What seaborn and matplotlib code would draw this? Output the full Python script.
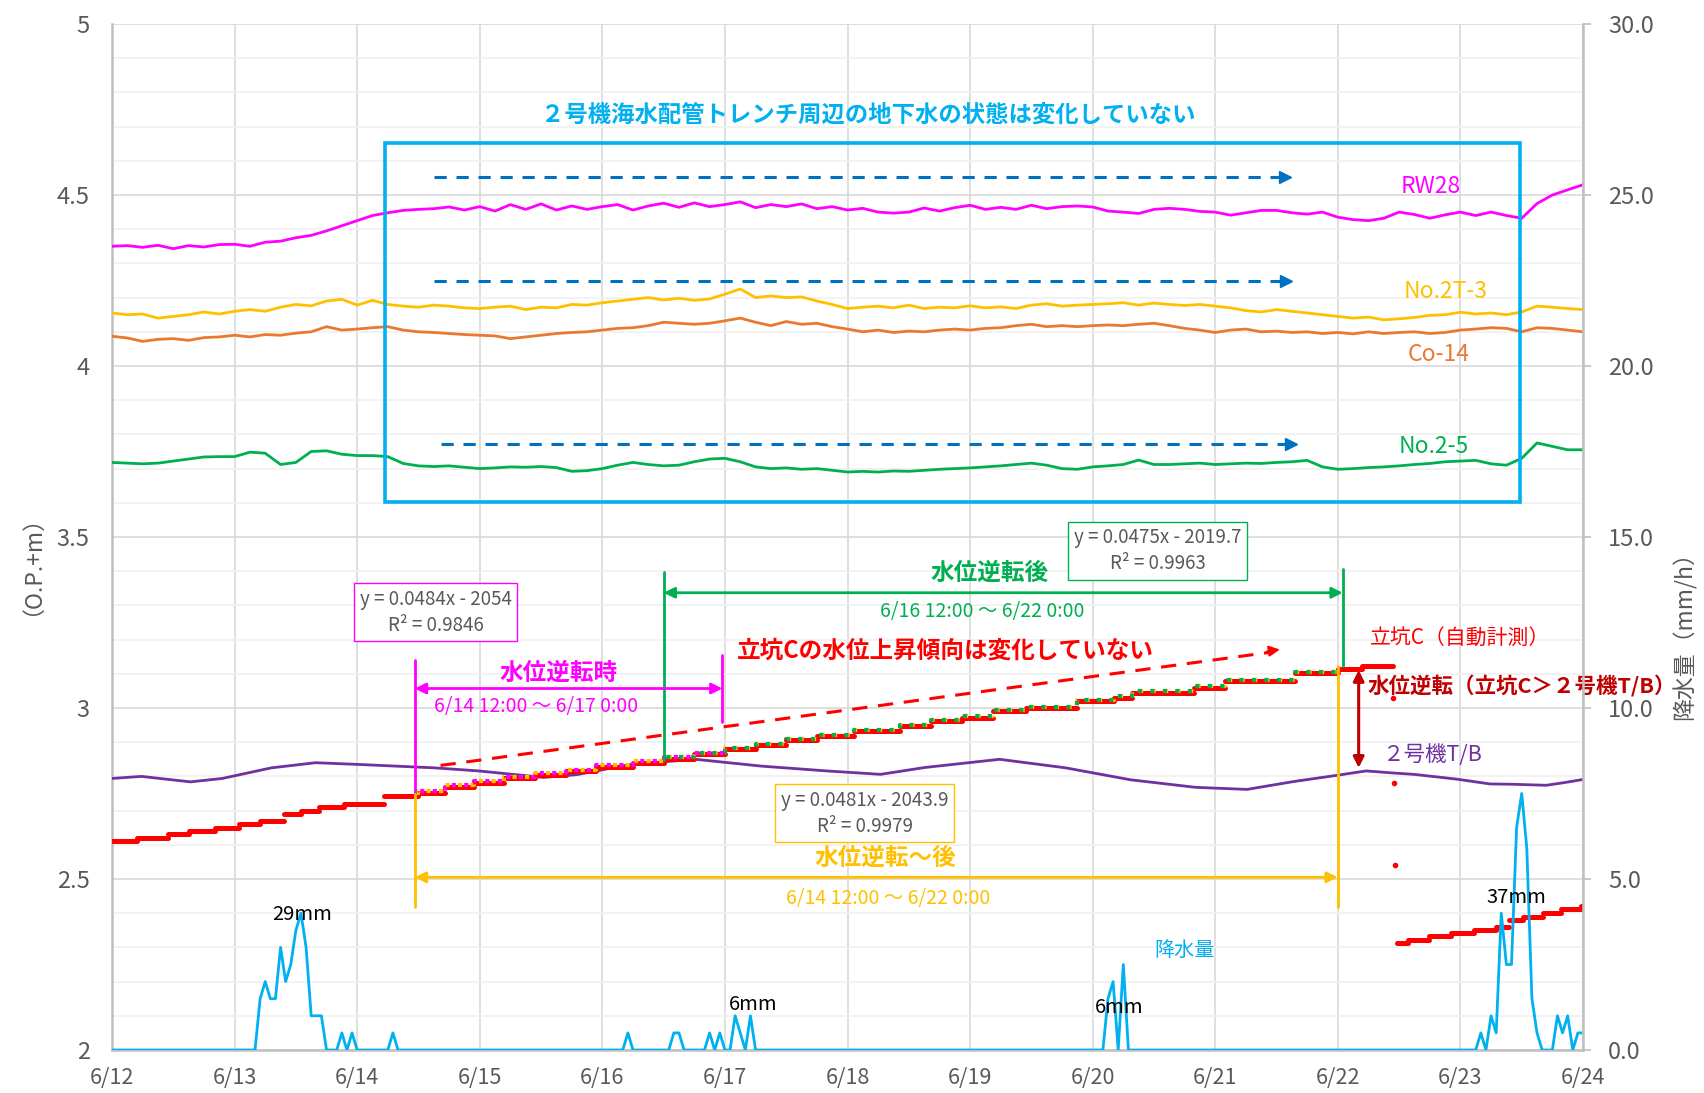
import numpy as np
import pandas as pd
import matplotlib
matplotlib.use("Agg")
import matplotlib.pyplot as plt
from matplotlib.patches import Rectangle
import seaborn as sns

# ---------------------------------------------------------------- data
date_labels = ["6/12", "6/13", "6/14", "6/15", "6/16", "6/17", "6/18",
               "6/19", "6/20", "6/21", "6/22", "6/23", "6/24"]

# 3-hourly groundwater levels (O.P.+m), hours from 6/12 0:00
well_hours = np.arange(0, 289, 3)

rw28 = [4.350, 4.352, 4.347, 4.353, 4.343, 4.352, 4.348, 4.355,
        4.356, 4.350, 4.362, 4.365, 4.375, 4.382, 4.395, 4.410,
        4.425, 4.440, 4.448, 4.455, 4.458, 4.460, 4.465, 4.456,
        4.466, 4.453, 4.472, 4.458, 4.474, 4.456, 4.468, 4.458,
        4.466, 4.472, 4.456, 4.468, 4.476, 4.464, 4.477, 4.466,
        4.472, 4.480, 4.463, 4.472, 4.466, 4.474, 4.460, 4.466,
        4.456, 4.461, 4.450, 4.447, 4.450, 4.462, 4.453, 4.463,
        4.470, 4.458, 4.464, 4.458, 4.470, 4.460, 4.466, 4.468,
        4.465, 4.453, 4.450, 4.446, 4.458, 4.461, 4.458, 4.452,
        4.450, 4.441, 4.448, 4.455, 4.455, 4.448, 4.444, 4.450,
        4.435, 4.428, 4.425, 4.432, 4.450, 4.443, 4.432, 4.442,
        4.450, 4.440, 4.450, 4.440, 4.432, 4.475, 4.500, 4.515,
        4.530]

no2t3 = [4.155, 4.150, 4.152, 4.140, 4.145, 4.150, 4.158, 4.152,
         4.160, 4.165, 4.160, 4.172, 4.180, 4.176, 4.190, 4.195,
         4.178, 4.192, 4.180, 4.175, 4.172, 4.178, 4.175, 4.170,
         4.168, 4.172, 4.175, 4.165, 4.172, 4.170, 4.180, 4.178,
         4.185, 4.190, 4.195, 4.200, 4.193, 4.198, 4.192, 4.196,
         4.210, 4.225, 4.200, 4.205, 4.200, 4.202, 4.190, 4.180,
         4.168, 4.172, 4.175, 4.170, 4.178, 4.168, 4.172, 4.170,
         4.176, 4.170, 4.173, 4.168, 4.178, 4.182, 4.175, 4.178,
         4.180, 4.182, 4.185, 4.178, 4.184, 4.180, 4.177, 4.180,
         4.175, 4.170, 4.162, 4.158, 4.165, 4.160, 4.155, 4.150,
         4.145, 4.140, 4.143, 4.135, 4.138, 4.142, 4.148, 4.150,
         4.157, 4.152, 4.155, 4.150, 4.158, 4.175, 4.172, 4.168,
         4.165]

co14 = [4.087, 4.082, 4.072, 4.078, 4.080, 4.075, 4.083, 4.085,
        4.090, 4.085, 4.092, 4.090, 4.096, 4.100, 4.115, 4.105,
        4.108, 4.112, 4.115, 4.105, 4.100, 4.098, 4.095, 4.092,
        4.090, 4.088, 4.080, 4.085, 4.090, 4.095, 4.098, 4.100,
        4.105, 4.110, 4.112, 4.118, 4.128, 4.125, 4.122, 4.125,
        4.132, 4.140, 4.128, 4.118, 4.130, 4.122, 4.125, 4.115,
        4.108, 4.100, 4.105, 4.098, 4.102, 4.100, 4.105, 4.108,
        4.105, 4.110, 4.112, 4.118, 4.122, 4.115, 4.118, 4.115,
        4.118, 4.120, 4.118, 4.122, 4.125, 4.118, 4.110, 4.105,
        4.098, 4.105, 4.108, 4.100, 4.102, 4.098, 4.100, 4.095,
        4.098, 4.094, 4.100, 4.095, 4.098, 4.100, 4.095, 4.098,
        4.105, 4.108, 4.112, 4.110, 4.100, 4.112, 4.110, 4.105,
        4.100]

no25 = [3.718, 3.716, 3.714, 3.716, 3.722, 3.728, 3.734, 3.735,
        3.735, 3.748, 3.745, 3.712, 3.718, 3.750, 3.752, 3.742,
        3.738, 3.738, 3.735, 3.715, 3.708, 3.706, 3.708, 3.704,
        3.700, 3.702, 3.705, 3.704, 3.706, 3.703, 3.692, 3.694,
        3.700, 3.710, 3.718, 3.712, 3.708, 3.710, 3.720, 3.728,
        3.730, 3.720, 3.705, 3.700, 3.702, 3.698, 3.700, 3.695,
        3.690, 3.692, 3.690, 3.693, 3.692, 3.695, 3.698, 3.700,
        3.702, 3.705, 3.708, 3.712, 3.716, 3.710, 3.700, 3.698,
        3.705, 3.708, 3.712, 3.725, 3.712, 3.712, 3.714, 3.716,
        3.712, 3.714, 3.716, 3.715, 3.718, 3.720, 3.724, 3.705,
        3.698, 3.700, 3.703, 3.705, 3.708, 3.712, 3.715, 3.720,
        3.722, 3.724, 3.714, 3.710, 3.730, 3.775, 3.765, 3.755,
        3.755]

# Unit 2 turbine building water level (days from 6/12 0:00)
tb_day = [0.00, 0.24, 0.64, 0.90, 1.30, 1.66, 2.01, 2.63, 2.99, 3.52,
          3.79, 4.23, 4.76, 5.30, 5.83, 6.27, 6.63, 7.24, 7.78, 8.31,
          8.84, 9.26, 9.64, 9.99, 10.23, 10.45, 10.62, 10.97, 11.24,
          11.43, 11.70, 11.85, 12.00]
tb_level = [2.794, 2.800, 2.784, 2.794, 2.825, 2.840, 2.835, 2.825, 2.816,
            2.797, 2.805, 2.835, 2.850, 2.830, 2.816, 2.806, 2.826, 2.850,
            2.825, 2.790, 2.768, 2.762, 2.785, 2.803, 2.816, 2.810, 2.806,
            2.792, 2.778, 2.777, 2.774, 2.782, 2.791]

# Shaft C (automatic gauge): stepwise readings, start/end day and level
shaft_start = [0.00, 0.20, 0.46, 0.63, 0.84, 1.04, 1.21, 1.40, 1.54, 1.69,
               1.89, 2.22, 2.50, 2.72, 2.95, 3.20, 3.45, 3.70, 3.95, 4.25,
               4.50, 4.75, 5.00, 5.25, 5.50, 5.75, 6.05, 6.43, 6.68, 6.93,
               7.19, 7.46, 7.87, 8.17, 8.32, 8.83, 9.08, 9.65, 10.00, 10.20,
               10.48, 10.57, 10.74, 10.92, 11.11, 11.29, 11.40, 11.51,
               11.67, 11.82, 11.98]
shaft_end = [0.20, 0.46, 0.63, 0.84, 1.04, 1.21, 1.40, 1.54, 1.69, 1.89,
             2.22, 2.50, 2.72, 2.95, 3.20, 3.45, 3.70, 3.95, 4.25, 4.50,
             4.75, 5.00, 5.25, 5.50, 5.75, 6.05, 6.43, 6.68, 6.93, 7.19,
             7.46, 7.87, 8.17, 8.32, 8.83, 9.08, 9.65, 10.00, 10.20, 10.45,
             10.57, 10.74, 10.92, 11.11, 11.29, 11.40, 11.51, 11.67,
             11.82, 11.98, 12.00]
shaft_level = [2.611, 2.621, 2.631, 2.640, 2.650, 2.660, 2.670, 2.690, 2.700,
               2.710, 2.720, 2.742, 2.752, 2.770, 2.782, 2.795, 2.805, 2.815,
               2.828, 2.840, 2.852, 2.865, 2.880, 2.892, 2.905, 2.918, 2.932,
               2.947, 2.962, 2.972, 2.991, 3.000, 3.020, 3.030, 3.045, 3.059,
               3.079, 3.101, 3.115, 3.122, 2.312, 2.321, 2.332, 2.342, 2.351,
               2.361, 2.380, 2.390, 2.400, 2.411, 2.421]
shaft_spike_day = [10.45, 10.46, 10.47]
shaft_spike_level = [3.030, 2.782, 2.540]

# Hourly rainfall (mm/h): hours with rain, hours from 6/12 0:00
rain_hour = [29, 30, 31, 32, 33, 34, 35, 36, 37, 38, 39, 40, 41, 45, 47, 55,
             101, 110, 111, 117, 119, 122, 123, 125,
             195, 196, 198,
             268, 270, 271, 272, 273, 274, 275, 276, 277, 278, 279,
             283, 284, 285, 287, 288]
rain_mm = [1.5, 2.0, 1.5, 1.5, 3.0, 2.0, 2.5, 3.5, 4.0, 3.0, 1.0, 1.0, 1.0, 0.5, 0.5, 0.5,
           0.5, 0.5, 0.5, 0.5, 0.5, 1.0, 0.5, 1.0,
           1.5, 2.0, 2.5,
           0.5, 1.0, 0.5, 4.0, 2.5, 2.5, 6.5, 7.5, 5.9, 1.5, 0.5,
           1.0, 0.5, 1.0, 0.5, 0.5]

# ---------------------------------------------------------------- style
sns.set_theme(style="white")
plt.rcParams['font.family'] = ['Noto Sans CJK JP', 'DejaVu Sans']

GRAY_TXT = "#595959"
C_RW = "#FF00FF"
C_2T3 = "#FFC000"
C_CO = "#E8792F"
C_25 = "#00B050"
C_TB = "#7030A0"
C_RAIN = "#00B0F0"
C_RED = "#FF0000"
C_DRED = "#C00000"
C_BLUE = "#0070C0"

fig = plt.figure(figsize=(17.04, 10.93), dpi=100)
ax = fig.add_axes([112 / 1704, 1 - 1050 / 1093, (1583 - 112) / 1704, (1050 - 24) / 1093])

# ---------------------------------------------------------------- wells
well_day = well_hours / 24.0
wells = pd.concat([
    pd.DataFrame({"day": well_day, "level": rw28, "well": "RW28"}),
    pd.DataFrame({"day": well_day, "level": no2t3, "well": "No.2T-3"}),
    pd.DataFrame({"day": well_day, "level": co14, "well": "Co-14"}),
    pd.DataFrame({"day": well_day, "level": no25, "well": "No.2-5"}),
    pd.DataFrame({"day": tb_day, "level": tb_level, "well": "T/B"}),
])
sns.lineplot(data=wells, x="day", y="level", hue="well", estimator=None,
             palette={"RW28": C_RW, "No.2T-3": C_2T3, "Co-14": C_CO,
                      "No.2-5": C_25, "T/B": C_TB},
             linewidth=2.0, legend=False, ax=ax, zorder=3)

# ---------------------------------------------------------------- shaft C
steps = pd.DataFrame({
    "day": np.ravel(np.column_stack([shaft_start, shaft_end])),
    "level": np.repeat(shaft_level, 2),
    "seg": np.repeat(np.arange(len(shaft_level)), 2),
})
sns.lineplot(data=steps, x="day", y="level", units="seg", estimator=None,
             color=C_RED, linewidth=3.6, legend=False, ax=ax, zorder=4)
ax.scatter(shaft_spike_day, shaft_spike_level, s=9, color=C_RED, zorder=4)

# fit-period series overlaid as dotted lines
def period(d0, d1):
    s = steps[(steps["day"] >= d0) & (steps["day"] <= d1)]
    return s["day"].to_numpy(), s["level"].to_numpy()

xx, yy = period(2.5, 10.0)
ax.plot(xx, yy + 0.004, color=C_2T3, lw=3.0, ls=(0, (1, 2)), zorder=5)
xx, yy = period(4.5, 10.0)
ax.plot(xx, yy + 0.004, color=C_25, lw=3.0, ls=(1.5, (1, 2)), zorder=5)
xx, yy = period(2.5, 5.0)
ax.plot(xx, yy + 0.004, color=C_RW, lw=3.0, ls=(1.5, (1, 2)), zorder=5)

# ---------------------------------------------------------------- rainfall
rain_series = np.zeros(289)
rain_series[np.array(rain_hour)] = rain_mm
rain = pd.DataFrame({"day": np.arange(289) / 24.0, "mm": rain_series})
ax2 = ax.twinx()
sns.lineplot(data=rain, x="day", y="mm", color=C_RAIN, linewidth=2.0,
             estimator=None, legend=False, ax=ax2)

# ---------------------------------------------------------------- axes
ax.set_xlim(0, 12)
ax.set_ylim(2, 5)
ax2.set_ylim(0, 30)
ax.set_xticks(np.arange(13))
ax.set_xticklabels(date_labels)
ax.set_yticks([2, 2.5, 3, 3.5, 4, 4.5, 5])
ax.set_yticklabels(["2", "2.5", "3", "3.5", "4", "4.5", "5"])
ax.set_yticks(np.arange(2, 5.001, 0.1), minor=True)
ax2.set_yticks(np.arange(0, 30.1, 5))
ax2.set_yticklabels([f"{v:.1f}" for v in np.arange(0, 30.1, 5)])
ax.set_xlabel("")
ax.set_ylabel("")
ax2.set_xlabel("")
ax2.set_ylabel("")

ax.yaxis.grid(True, which="minor", color="#F0F0F0", lw=1.2, zorder=0)
ax.yaxis.grid(True, which="major", color="#D9D9D9", lw=1.2, zorder=0)
ax.xaxis.grid(True, which="major", color="#D9D9D9", lw=1.2, zorder=0)
ax.set_axisbelow(True)

ax.tick_params(axis="y", which="both", length=0, pad=16, labelsize=17, labelcolor=GRAY_TXT)
ax.tick_params(axis="x", length=0, pad=12, labelsize=15.5, labelcolor=GRAY_TXT)
ax2.tick_params(axis="y", length=6, width=1.2, color="#BFBFBF", pad=12,
                labelsize=17, labelcolor=GRAY_TXT)

for sp in ["top"]:
    ax.spines[sp].set_visible(False)
    ax2.spines[sp].set_visible(False)
ax.spines["right"].set_visible(False)
ax2.spines["left"].set_visible(False)
ax2.spines["bottom"].set_visible(False)
for sp in [ax.spines["left"], ax.spines["bottom"], ax2.spines["right"]]:
    sp.set_color("#BFBFBF")
    sp.set_linewidth(1.8)

fig.text(0.012, 0.493, "（O.P.+m）", rotation=90, ha="center", va="center",
         fontsize=16.5, color=GRAY_TXT)
fig.text(0.9885, 0.424, "降水量（mm/h）", rotation=90, ha="center", va="center",
         fontsize=16.5, color=GRAY_TXT)

# ---------------------------------------------------------------- annotations
ax.add_patch(Rectangle((2.23, 3.603), 9.26, 1.048, fill=False,
                       edgecolor=C_RAIN, lw=2.6, zorder=6))
ax.text(6.17, 4.734, "２号機海水配管トレンチ周辺の地下水の状態は変化していない",
        ha="center", va="center", fontsize=16.8, color=C_RAIN, fontweight="bold", zorder=7)

for x0, x1, yv in [(2.63, 9.57, 4.553), (2.63, 9.58, 4.248), (2.68, 9.62, 3.771)]:
    ax.plot([x0, x1 - 0.05], [yv, yv], color=C_BLUE, lw=2.2, ls=(0, (4, 3.2)), zorder=6)
    ax.plot([x1], [yv], marker=">", color=C_BLUE, markersize=8, zorder=6)

ax.text(10.76, 4.524, "RW28", color=C_RW, fontsize=16.5, ha="center", va="center", zorder=7)
ax.text(10.88, 4.219, "No.2T-3", color=C_2T3, fontsize=16.5, ha="center", va="center", zorder=7)
ax.text(10.82, 4.035, "Co-14", color=C_CO, fontsize=16.5, ha="center", va="center", zorder=7)
ax.text(10.78, 3.765, "No.2-5", color=C_25, fontsize=16.5, ha="center", va="center", zorder=7)

# trend of shaft C
ax.plot([2.68, 9.45], [2.832, 3.163], color=C_RED, lw=2.2, ls=(0, (5, 3.5)), zorder=6)
ax.annotate("", xy=(9.55, 3.172), xytext=(9.40, 3.1645),
            arrowprops=dict(arrowstyle="-|>", color=C_RED, lw=1.5, mutation_scale=16),
            zorder=6)
ax.text(6.80, 3.168, "立坑Cの水位上昇傾向は変化していない", color=C_RED,
        fontsize=17, fontweight="bold", ha="center", va="center", zorder=7)

# period after reversal (green)
ax.plot([4.5, 4.5], [3.397, 2.848], color=C_25, lw=2.0, zorder=6)
ax.plot([10.04, 10.04], [3.406, 3.122], color=C_25, lw=2.0, zorder=6)
ax.annotate("", xy=(4.5, 3.337), xytext=(10.04, 3.337),
            arrowprops=dict(arrowstyle="<|-|>", color=C_25, lw=2.0, mutation_scale=16,
                            shrinkA=0, shrinkB=0), zorder=6)
ax.text(7.16, 3.394, "水位逆転後", color=C_25, fontsize=17, fontweight="bold",
        ha="center", va="center", zorder=7)
ax.text(7.10, 3.283, "6/16 12:00 〜 6/22 0:00", color=C_25, fontsize=14,
        ha="center", va="center", zorder=7)
ax.text(8.53, 3.46, "y = 0.0475x - 2019.7\nR² = 0.9963", color=GRAY_TXT, fontsize=13.5,
        ha="center", va="center", linespacing=1.3, zorder=8,
        bbox=dict(boxstyle="square,pad=0.3", fc="white", ec=C_25, lw=1.0))

# period during reversal (magenta)
ax.plot([2.47, 2.47], [3.139, 2.75], color=C_RW, lw=2.0, zorder=6)
ax.plot([4.98, 4.98], [3.154, 2.959], color=C_RW, lw=2.0, zorder=6)
ax.annotate("", xy=(2.47, 3.057), xytext=(4.98, 3.057),
            arrowprops=dict(arrowstyle="<|-|>", color=C_RW, lw=2.0, mutation_scale=16,
                            shrinkA=0, shrinkB=0), zorder=6)
ax.text(3.64, 3.104, "水位逆転時", color=C_RW, fontsize=17, fontweight="bold",
        ha="center", va="center", zorder=7)
ax.text(3.46, 3.004, "6/14 12:00 〜 6/17 0:00", color=C_RW, fontsize=14,
        ha="center", va="center", zorder=7)
ax.text(2.64, 3.28, "y = 0.0484x - 2054\nR² = 0.9846", color=GRAY_TXT, fontsize=13.5,
        ha="center", va="center", linespacing=1.3, zorder=8,
        bbox=dict(boxstyle="square,pad=0.3", fc="white", ec=C_RW, lw=1.0))

# reversal to after (yellow)
ax.plot([2.47, 2.47], [2.75, 2.419], color=C_2T3, lw=2.0, zorder=6)
ax.plot([10.0, 10.0], [3.122, 2.419], color=C_2T3, lw=2.0, zorder=6)
ax.annotate("", xy=(2.47, 2.505), xytext=(10.0, 2.505),
            arrowprops=dict(arrowstyle="<|-|>", color=C_2T3, lw=2.0, mutation_scale=16,
                            shrinkA=0, shrinkB=0), zorder=6)
ax.text(6.31, 2.562, "水位逆転〜後", color=C_2T3, fontsize=17, fontweight="bold",
        ha="center", va="center", zorder=7)
ax.text(6.33, 2.444, "6/14 12:00 〜 6/22 0:00", color=C_2T3, fontsize=14,
        ha="center", va="center", zorder=7)
ax.text(6.14, 2.692, "y = 0.0481x - 2043.9\nR² = 0.9979", color=GRAY_TXT, fontsize=13.5,
        ha="center", va="center", linespacing=1.3, zorder=8,
        bbox=dict(boxstyle="square,pad=0.3", fc="white", ec=C_2T3, lw=1.0))

# reversal marker
ax.annotate("", xy=(10.17, 3.111), xytext=(10.17, 2.825),
            arrowprops=dict(arrowstyle="<|-|>", color=C_DRED, lw=2.2, mutation_scale=16,
                            shrinkA=0, shrinkB=0), zorder=6)
ax.text(10.24, 3.063, "水位逆転（立坑C＞２号機T/B）", color=C_DRED, fontsize=15.5,
        fontweight="bold", ha="left", va="center", zorder=7, clip_on=False)
ax.text(10.26, 3.206, "立坑C（自動計測）", color=C_RED, fontsize=15,
        ha="left", va="center", zorder=7)
ax.text(10.36, 2.864, "２号機T/B", color=C_TB, fontsize=15.5,
        ha="left", va="center", zorder=7)

# rainfall labels
ax2.text(8.75, 2.9, "降水量", color=C_RAIN, fontsize=14.5, ha="center", va="center")
ax2.text(1.55, 3.95, "29mm", color="black", fontsize=14.5, ha="center", va="center")
ax2.text(5.23, 1.32, "6mm", color="black", fontsize=14.5, ha="center", va="center")
ax2.text(8.22, 1.25, "6mm", color="black", fontsize=14.5, ha="center", va="center")
ax2.text(11.46, 4.45, "37mm", color="black", fontsize=14.5, ha="center", va="center")

fig.savefig("out.png", dpi=100)
